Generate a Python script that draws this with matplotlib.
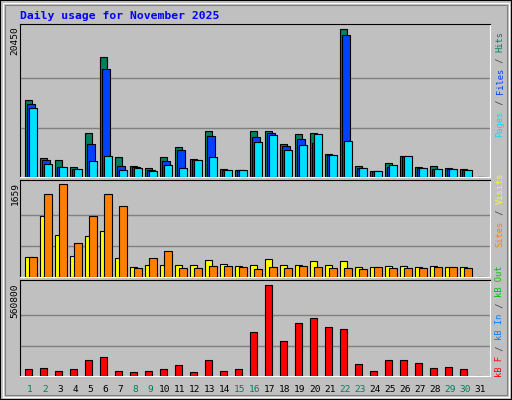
import matplotlib
matplotlib.use("Agg")
import matplotlib.pyplot as plt
import numpy as np
from matplotlib.patches import Rectangle

days = list(range(1, 32))
hits = [10580, 2640, 2370, 1390, 6120, 16560, 2780, 1530, 1250, 2780, 4170, 2500, 6400, 1110, 970,
        6400, 6400, 4590, 5980, 6120, 3200, 20450, 1530, 830, 1950, 2920, 1390, 1530, 1250, 1110, 0]
files = [10150, 2370, 1390, 1110, 4590, 14880, 1530, 1390, 970, 2230, 3760, 2370, 5700, 970, 970,
         5560, 6120, 4310, 5290, 4730, 3060, 19610, 1250, 830, 1390, 2780, 1250, 1110, 1110, 970, 0]
pages = [9600, 1810, 1390, 1110, 2230, 2920, 970, 1250, 830, 1670, 1250, 2370, 2780, 970, 970,
         4870, 5840, 3760, 4450, 5980, 3060, 5010, 1250, 830, 1670, 2920, 1250, 1110, 1110, 970, 0]
visits = [365, 1084, 760, 383, 725, 815, 347, 186, 222, 222, 222, 222, 311, 240, 204,
          222, 329, 222, 222, 293, 222, 293, 186, 186, 204, 204, 186, 204, 186, 186, 0]
sites = [365, 1479, 1659, 617, 1084, 1479, 1264, 168, 347, 473, 168, 168, 204, 204, 186,
         150, 186, 168, 204, 186, 168, 168, 150, 186, 168, 168, 168, 186, 186, 168, 0]
kbf = [45000, 51200, 32750, 45000, 100300, 118700, 32750, 26600, 32750, 45000, 69600, 26600, 100300, 32750, 45000,
       272250, 560800, 217000, 327500, 358200, 303000, 290700, 75700, 32750, 100300, 100300, 81900, 51200, 57300, 45000, 0]
weekend = {1, 2, 8, 9, 15, 16, 22, 23, 29, 30}
title = "Daily usage for November 2025"

BG = "#C0C0C0"
W, H = 512, 400
fig = plt.figure(figsize=(W/100, H/100), dpi=100)
fig.patch.set_facecolor(BG)
mono = "DejaVu Sans Mono"

fig.add_artist(Rectangle((0, 0), 1, 1, transform=fig.transFigure, fill=False, ec="black", lw=1.5))
fig.add_artist(Rectangle((3/W, 3/H), 1-6/W, 1-6/H, transform=fig.transFigure, fill=False, ec="white", lw=0.8))
fig.add_artist(Rectangle((5/W, 5/H), 1-10/W, 1-10/H, transform=fig.transFigure, fill=False, ec="#808080", lw=0.8))

def mkax(y1, y2):
    ax = fig.add_axes([20/W, 1-y2/H, 470/W, (y2-y1)/H])
    ax.set_facecolor(BG)
    for s in ("top", "left"):
        ax.spines[s].set_color("black")
    for s in ("bottom", "right"):
        ax.spines[s].set_color("white")
    ax.set_xlim(0.667, 32.0)
    ax.set_xticks([])
    ax.set_yticks([])
    return ax

x = np.array(days, dtype=float)
kw = dict(width=0.5, align="edge", edgecolor="black", linewidth=0.8, zorder=3)

def grid(ax, m):
    for f in (1/3, 2/3):
        ax.axhline(m*f, color="#808080", lw=1, zorder=1)

ax1 = mkax(24, 177)
m1 = max(hits)
ax1.set_ylim(0, m1*152/147)
grid(ax1, m1)
ax1.bar(x, hits, color="#00805C", **kw)
ax1.bar(x+0.15, files, color="#0040FF", **kw)
ax1.bar(x+0.29, pages, color="#00E0FF", **kw)

ax2 = mkax(180, 277)
m2 = max(sites)
ax2.set_ylim(0, m2*96.7/92.4)
grid(ax2, m2)
ax2.bar(x, visits, color="#FFFF00", **kw)
ax2.bar(x+0.29, sites, color="#FF8000", **kw)

ax3 = mkax(280, 376)
m3 = max(kbf)
ax3.set_ylim(0, m3*96/91.4)
grid(ax3, m3)
ax3.bar(x, kbf, color="#FF0000", **kw)

for d in days:
    fig.text((20 + (d + 0.33 - 0.667)*15)/W, 1-389/H, str(d), ha="center", va="center",
             fontsize=6.8, family=mono, color="#00805C" if d in weekend else "black")

for val, ytop in ((m1, 26), (m2, 182), (m3, 283)):
    fig.text(15/W, 1-ytop/H, str(val), rotation=90, ha="center", va="top", fontsize=6.8, family=mono)

fig.text(20/W, 1-16/H, title, fontsize=8.2, family=mono, weight="bold", color="#0000FF", va="center")

FS = 6.3
CW = 0.602*FS*100/72

def vlabel(pieces, ybot):
    y = ybot
    for t, c in pieces:
        fig.text(500/W, 1-y/H, t, rotation=90, ha="center", va="bottom", fontsize=FS,
                 family=mono, color=c)
        y -= len(t)*CW + 0.3

vlabel([("Pages", "#00E0FF"), (" / ", "#404040"), ("Files", "#0040FF"), (" / ", "#404040"), ("Hits", "#00805C")], 137)
vlabel([("Sites", "#FF8000"), (" / ", "#404040"), ("Visits", "#FFFF00")], 247)
vlabel([("kB F", "#FF0000"), (" / ", "#404040"), ("kB In", "#0080FF"), (" / ", "#404040"), ("kB Out", "#00C000")], 377)

fig.savefig("out.png", dpi=100, facecolor=BG)
